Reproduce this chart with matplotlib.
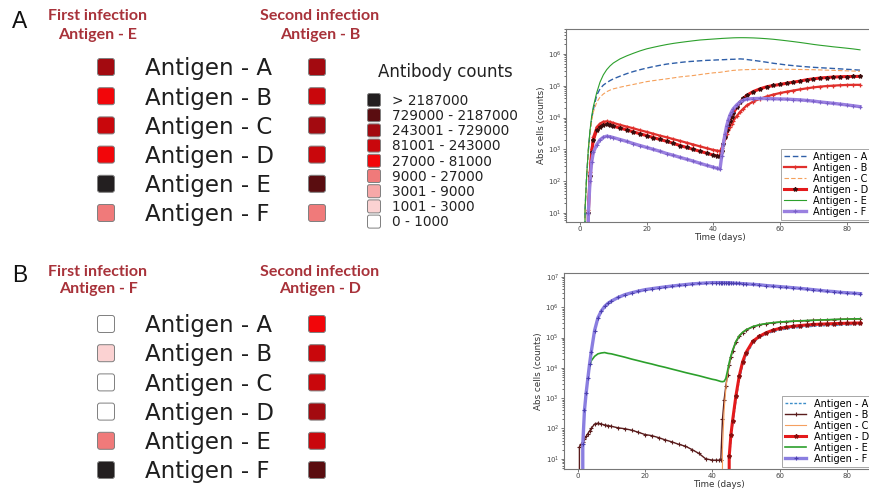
import matplotlib
matplotlib.use('Agg')
import matplotlib.pyplot as plt
from matplotlib.patches import FancyBboxPatch

# ---------------- data ----------------
antigens = ['Antigen - A', 'Antigen - B', 'Antigen - C',
            'Antigen - D', 'Antigen - E', 'Antigen - F']

count_bins = ['> 2187000', '729000 - 2187000', '243001 - 729000',
              '81001 - 243000', '27000 - 81000', '9000 - 27000',
              '3001 - 9000', '1001 - 3000', '0 - 1000']
bin_colors = ['#231f20', '#5a0d10', '#a30a10', '#c9070c', '#f2060a',
              '#f07a7a', '#f7a8a8', '#fbd2d2', '#ffffff']

# bin index (into count_bins) of each antigen square
panelA_first_bins = [2, 4, 3, 4, 0, 5]
panelA_second_bins = [2, 3, 2, 3, 1, 5]
panelB_first_bins = [8, 7, 8, 8, 5, 0]
panelB_second_bins = [4, 3, 3, 2, 3, 1]

panelA_first = 'Antigen - E'
panelA_second = 'Antigen - B'
panelB_first = 'Antigen - F'
panelB_second = 'Antigen - D'

days = [0, 0.5, 1, 1.5, 2, 2.5, 3, 3.5, 4,
        5, 6, 7, 8, 9, 10,
        12, 14, 16, 18, 20, 22, 24, 26, 28, 30, 32, 34, 36, 38, 40,
        41, 42,
        42.5, 43, 43.5, 44, 44.5, 45, 45.5, 46,
        47, 48, 49, 50,
        52, 54, 56, 58, 60, 62, 64, 66, 68, 70, 72, 74, 76, 78, 80, 82, 84]

# panel A (first infection E, second infection B)
panelA_A = [0, 0, 0, 12, 150, 900, 3500, 9000, 1.8e4,
            5e4, 8e4, 1.05e5, 1.25e5, 1.45e5, 1.65e5,
            2e5, 2.4e5, 2.8e5, 3.2e5, 3.6e5, 4e5, 4.4e5, 4.8e5, 5.1e5, 5.4e5, 5.7e5, 5.9e5, 6.1e5, 6.3e5, 6.4e5,
            6.5e5, 6.55e5,
            6.6e5, 6.6e5, 6.65e5, 6.7e5, 6.7e5, 6.75e5, 6.8e5, 6.8e5,
            6.9e5, 7e5, 6.9e5, 6.7e5,
            6.3e5, 5.9e5, 5.5e5, 5.1e5, 4.8e5, 4.5e5, 4.3e5, 4.1e5, 3.95e5, 3.8e5, 3.7e5, 3.6e5, 3.5e5, 3.4e5, 3.3e5, 3.2e5, 3.1e5]
panelA_B = [0, 0, 0, 0, 0, 12, 200, 1000, 2500,
            5000, 6500, 7400, 7600, 7300, 6800,
            5900, 5200, 4600, 4000, 3550, 3100, 2700, 2400, 2100, 1850, 1620, 1420, 1240, 1090, 960,
            920, 880,
            1100, 1600, 2200, 3000, 4000, 5200, 6500, 8000,
            1.1e4, 1.5e4, 1.9e4, 2.4e4,
            3.2e4, 3.9e4, 4.6e4, 5.3e4, 5.9e4, 6.5e4, 7.1e4, 7.7e4, 8.3e4, 8.9e4, 9.4e4, 9.8e4, 1.01e5, 1.04e5, 1.06e5, 1.07e5, 1.07e5]
panelA_C = [0, 0, 0, 12, 150, 900, 3200, 8000, 1.5e4,
            3e4, 4.4e4, 5.5e4, 6.5e4, 7.3e4, 8e4,
            9e4, 1e5, 1.1e5, 1.22e5, 1.35e5, 1.45e5, 1.55e5, 1.65e5, 1.77e5, 1.9e5, 2e5, 2.1e5, 2.25e5, 2.4e5, 2.55e5,
            2.6e5, 2.65e5,
            2.7e5, 2.75e5, 2.8e5, 2.85e5, 2.9e5, 2.95e5, 3e5, 3.05e5,
            3.1e5, 3.15e5, 3.2e5, 3.22e5,
            3.25e5, 3.3e5, 3.3e5, 3.3e5, 3.3e5, 3.3e5, 3.28e5, 3.25e5, 3.22e5, 3.2e5, 3.15e5, 3.1e5, 3.05e5, 3e5, 2.95e5, 2.9e5, 2.85e5]
panelA_D = [0, 0, 0, 0, 0, 10, 150, 800, 2000,
            4000, 5200, 5900, 6100, 5800, 5400,
            4700, 4100, 3550, 3100, 2700, 2350, 2050, 1800, 1550, 1320, 1150, 1000, 870, 760, 660,
            630, 600,
            900, 1500, 2500, 4000, 6000, 8000, 1.05e4, 1.4e4,
            2.1e4, 3e4, 4e4, 5e4,
            6.6e4, 8e4, 9.3e4, 1.02e5, 1.1e5, 1.2e5, 1.3e5, 1.4e5, 1.55e5, 1.65e5, 1.75e5, 1.82e5, 1.88e5, 1.92e5, 1.95e5, 1.96e5, 1.97e5]
panelA_E = [0, 0, 0, 12, 150, 1000, 4000, 1.1e4, 2.2e4,
            6e4, 1.3e5, 2.2e5, 3.2e5, 4.2e5, 5.2e5,
            7e5, 8.7e5, 1.05e6, 1.25e6, 1.45e6, 1.62e6, 1.8e6, 1.98e6, 2.15e6, 2.3e6, 2.45e6, 2.6e6, 2.75e6, 2.85e6, 2.95e6,
            3e6, 3.05e6,
            3.08e6, 3.1e6, 3.12e6, 3.14e6, 3.16e6, 3.18e6, 3.2e6, 3.22e6,
            3.24e6, 3.25e6, 3.25e6, 3.24e6,
            3.2e6, 3.12e6, 3.02e6, 2.9e6, 2.75e6, 2.6e6, 2.45e6, 2.3e6, 2.15e6, 2e6, 1.88e6, 1.78e6, 1.68e6, 1.6e6, 1.52e6, 1.44e6, 1.35e6]
panelA_F = [0, 0, 0, 0, 0, 10, 100, 400, 800,
            1400, 2000, 2400, 2600, 2500, 2350,
            2040, 1780, 1520, 1320, 1150, 1000, 870, 740, 650, 560, 490, 425, 365, 315, 275,
            257, 240,
            600, 1500, 3000, 5500, 8500, 1.2e4, 1.55e4, 1.9e4,
            2.5e4, 3.1e4, 3.5e4, 3.8e4,
            3.95e4, 4e4, 3.95e4, 3.9e4, 3.85e4, 3.8e4, 3.7e4, 3.6e4, 3.45e4, 3.3e4, 3.1e4, 2.95e4, 2.8e4, 2.65e4, 2.5e4, 2.35e4, 2.2e4]

# panel B (first infection F, second infection D)
panelB_A = [0, 0, 0, 0, 0, 0, 0, 0, 0,
            0, 0, 0, 0, 0, 0,
            0, 0, 0, 0, 0, 0, 0, 0, 0, 0, 0, 0, 0, 0, 0,
            0, 0,
            0, 0, 0, 0, 0, 8, 40, 120,
            800, 4000, 1.2e4, 2.5e4,
            6.5e4, 1e5, 1.3e5, 1.55e5, 1.75e5, 1.92e5, 2.05e5, 2.17e5, 2.27e5, 2.35e5, 2.42e5, 2.48e5, 2.53e5, 2.58e5, 2.62e5, 2.66e5, 2.7e5]
panelB_B = [0, 25, 30, 36, 45, 55, 68, 82, 100,
            140, 150, 140, 130, 125, 118,
            105, 98, 88, 75, 63, 58, 50, 42, 36, 30, 26, 20, 15, 10, 9,
            9, 9,
            9, 200, 900, 2500, 6000, 1.2e4, 2.2e4, 3.5e4,
            7e4, 1.1e5, 1.45e5, 1.75e5,
            2.25e5, 2.6e5, 2.85e5, 3.05e5, 3.2e5, 3.32e5, 3.43e5, 3.53e5, 3.62e5, 3.7e5, 3.78e5, 3.86e5, 3.93e5, 4e5, 4.07e5, 4.13e5, 4.2e5]
panelB_C = [0, 0, 0, 0, 0, 0, 0, 0, 0,
            0, 0, 0, 0, 0, 0,
            0, 0, 0, 0, 0, 0, 0, 0, 0, 0, 0, 0, 0, 0, 0,
            0, 0,
            0, 20, 400, 2000, 6000, 1.3e4, 2.4e4, 3.8e4,
            7.5e4, 1.15e5, 1.5e5, 1.8e5,
            2.3e5, 2.65e5, 2.9e5, 3.1e5, 3.25e5, 3.35e5, 3.45e5, 3.55e5, 3.62e5, 3.7e5, 3.77e5, 3.84e5, 3.9e5, 3.96e5, 4.02e5, 4.07e5, 4.12e5]
panelB_D = [0, 0, 0, 0, 0, 0, 0, 0, 0,
            0, 0, 0, 0, 0, 0,
            0, 0, 0, 0, 0, 0, 0, 0, 0, 0, 0, 0, 0, 0, 0,
            0, 0,
            0, 0, 0, 0, 0, 12, 60, 180,
            1200, 5500, 1.6e4, 3.2e4,
            7.5e4, 1.1e5, 1.45e5, 1.75e5, 2e5, 2.2e5, 2.35e5, 2.5e5, 2.6e5, 2.7e5, 2.77e5, 2.83e5, 2.88e5, 2.93e5, 2.97e5, 3e5, 3.03e5]
panelB_E = [0, 0, 0, 30, 400, 1500, 4500, 1e4, 1.7e4,
            2.4e4, 2.9e4, 3.1e4, 3.2e4, 3e4, 2.9e4,
            2.55e4, 2.25e4, 1.95e4, 1.72e4, 1.51e4, 1.34e4, 1.17e4, 1.04e4, 9100, 8000, 7000, 6200, 5500, 4800, 4200,
            4000, 3700,
            3550, 3500, 3600, 4500, 8000, 1.5e4, 2.5e4, 3.8e4,
            7.5e4, 1.15e5, 1.5e5, 1.8e5,
            2.3e5, 2.65e5, 2.9e5, 3.1e5, 3.25e5, 3.37e5, 3.47e5, 3.56e5, 3.64e5, 3.72e5, 3.8e5, 3.87e5, 3.94e5, 4e5, 4.06e5, 4.12e5, 4.17e5]
panelB_F = [0, 0, 0, 30, 400, 1500, 4500, 1.3e4, 3.3e4,
            1.7e5, 4.5e5, 7.5e5, 1.07e6, 1.35e6, 1.6e6,
            2.1e6, 2.6e6, 3e6, 3.4e6, 3.8e6, 4.1e6, 4.4e6, 4.7e6, 5e6, 5.3e6, 5.6e6, 5.9e6, 6.1e6, 6.3e6, 6.5e6,
            6.5e6, 6.5e6,
            6.5e6, 6.5e6, 6.5e6, 6.45e6, 6.45e6, 6.4e6, 6.4e6, 6.3e6,
            6.2e6, 6.1e6, 6e6, 5.9e6,
            5.7e6, 5.5e6, 5.2e6, 5e6, 4.8e6, 4.6e6, 4.4e6, 4.2e6, 4e6, 3.8e6, 3.6e6, 3.4e6, 3.3e6, 3.1e6, 3e6, 2.9e6, 2.8e6]

x_ticks = [0, 20, 40, 60, 80]
panelA_y_ticks = [1e1, 1e2, 1e3, 1e4, 1e5, 1e6]
panelB_y_ticks = [1e1, 1e2, 1e3, 1e4, 1e5, 1e6, 1e7]

# ---------------- styles ----------------
stylesA = [
    dict(color='#2f5fa8', lw=1.0, ls=(0, (4, 2))),
    dict(color='#e0302c', lw=1.6, marker='+', ms=3.5, mew=0.9),
    dict(color='#f5a05a', lw=0.8, ls=(0, (4, 2))),
    dict(color='#e41a1c', lw=2.2, marker='*', ms=3, mfc='#3a0d0d', mec='#3a0d0d'),
    dict(color='#2ca02c', lw=0.8),
    dict(color='#9a80e0', lw=2.4, marker='+', ms=3.5, mew=0.8, mec='#7a60c8'),
]
stylesB = [
    dict(color='#3d8ec9', lw=1.0, ls=(0, (2, 1.2))),
    dict(color='#5a1c1c', lw=1.0, marker='+', ms=3.5, mew=0.8),
    dict(color='#f5a060', lw=0.8),
    dict(color='#e41a1c', lw=2.2, marker='*', ms=3, mfc='#8a0d0d', mec='#8a0d0d'),
    dict(color='#2ca02c', lw=1.2),
    dict(color='#8a7ee0', lw=2.4, marker='+', ms=3.5, mew=0.8, mec='#4b3fae'),
]

W, H = 869, 492
fig = plt.figure(figsize=(W / 100, H / 100), dpi=100)
bg = fig.add_axes([0, 0, 1, 1])
bg.set_xlim(0, W)
bg.set_ylim(H, 0)
bg.axis('off')

header_color = '#a8323a'


def square(x, y, s, color, r=2.5):
    p = FancyBboxPatch((x - s / 2 + r, y - s / 2 + r), s - 2 * r, s - 2 * r,
                       boxstyle='round,pad=%g' % r, fc=color, ec='#7f7f7f', lw=0.7)
    bg.add_patch(p)


def draw_panel(letter, first, second, first_bins, second_bins, y_head, y_row0):
    bg.text(12, y_head + 13, letter, fontsize=16.5, family='Liberation Sans',
            color='#111111', va='baseline', ha='left')
    bg.text(98, y_head + 6, 'First infection', fontsize=11.5, family='Lato',
            weight='bold', color=header_color, ha='center', va='baseline')
    bg.text(98, y_head + 24, first, fontsize=11.5, family='Lato',
            weight='bold', color=header_color, ha='center', va='baseline')
    bg.text(320, y_head + 6, 'Second infection', fontsize=11.5, family='Lato',
            weight='bold', color=header_color, ha='center', va='baseline')
    bg.text(320, y_head + 24, second, fontsize=11.5, family='Lato',
            weight='bold', color=header_color, ha='center', va='baseline')
    for i, name in enumerate(antigens):
        y = y_row0 + i * 29.2
        square(106, y, 17, bin_colors[first_bins[i]])
        square(317, y, 17, bin_colors[second_bins[i]])
        bg.text(145, y + 8.3, name, fontsize=16.5, family='DejaVu Sans',
                color='#1e1e1e', va='baseline', ha='left')


draw_panel('A', panelA_first, panelA_second, panelA_first_bins, panelA_second_bins, 14.5, 67)
draw_panel('B', panelB_first, panelB_second, panelB_first_bins, panelB_second_bins, 269.5, 324)

# antibody count legend
bg.text(445, 77, 'Antibody counts', fontsize=12, family='DejaVu Sans',
        color='#222222', ha='center', va='baseline')
for i, lab in enumerate(count_bins):
    y = 100 + i * 15.2
    square(374, y, 13, bin_colors[i], r=2)
    bg.text(392, y + 4.8, lab, fontsize=9.8, family='DejaVu Sans',
            color='#222222', va='baseline', ha='left')


def setup_axes(ax, ylim, yticks):
    ax.set_yscale('log')
    ax.set_xlim(-4.2, 88.2)
    ax.set_ylim(*ylim)
    ax.set_xticks(x_ticks)
    ax.set_yticks(yticks)
    ax.tick_params(labelsize=5, length=2, width=0.5, pad=1.2, colors='#444444')
    ax.tick_params(which='minor', length=1.2, width=0.4)
    for s in ax.spines.values():
        s.set_color('#777777')
        s.set_linewidth(0.8)
    ax.set_xlabel('Time (days)', fontsize=6.3, labelpad=0.5, color='#333333')
    ax.set_ylabel('Abs cells (counts)', fontsize=6.3, labelpad=1.5, color='#333333')


axT = fig.add_axes([566 / W, 1 - 222 / H, 308 / W, 193 / H])
setup_axes(axT, (5.2, 6.1e6), panelA_y_ticks)
for vals, name, st in zip([panelA_A, panelA_B, panelA_C, panelA_D, panelA_E, panelA_F],
                          antigens, stylesA):
    axT.plot(days, vals, label=name, **st)

axB = fig.add_axes([563.6 / W, 1 - 469 / H, 311 / W, 196 / H])
setup_axes(axB, (4.6, 1.35e7), panelB_y_ticks)
for vals, name, st in zip([panelB_A, panelB_B, panelB_C, panelB_D, panelB_E, panelB_F],
                          antigens, stylesB):
    axB.plot(days, vals, label=name, **st)

for ax in (axT, axB):
    leg = ax.legend(loc='lower right', fontsize=7, borderpad=0.3, labelspacing=0.1,
                    handlelength=2.2, handletextpad=0.8, borderaxespad=0.25,
                    fancybox=False, framealpha=1)
    leg.get_frame().set_edgecolor('#999999')
    leg.get_frame().set_linewidth(0.6)

fig.savefig('out.png', dpi=100)
